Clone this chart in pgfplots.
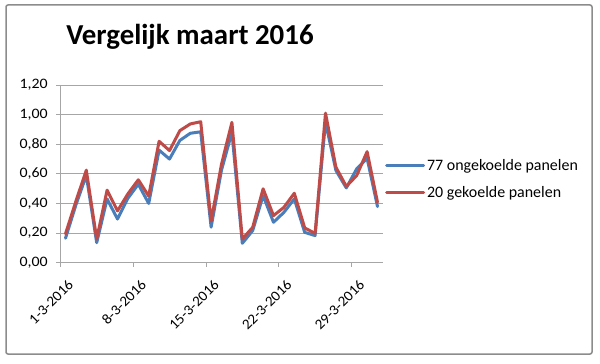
\documentclass[border=0pt]{standalone}
\usepackage{fontspec}
\setmainfont{Carlito}
\newfontfamily\tickfont{Carlito}[FakeStretch=1.06]
\newfontfamily\ytickfont{Carlito}[FakeStretch=1.1]
\usepackage{pgfplots}
\pgfplotsset{compat=1.18}
\definecolor{sblue}{HTML}{4A7EBB}
\definecolor{sred}{HTML}{BE4B48}
\definecolor{gridc}{HTML}{A6A6A6}
\definecolor{framec}{HTML}{8C8C8C}

\begin{document}
\begin{tikzpicture}[x=1bp,y=1bp]
\path[use as bounding box, fill=white] (0,0) rectangle (600,363);
\draw[framec, line width=1.5bp, rounded corners=2bp] (6,9) rectangle (592,358);
\node[font=\fontsize{29}{34}\selectfont\bfseries] at (190,326) {Vergelijk maart 2016};
\begin{axis}[
  at={(60.3bp,100.3bp)}, anchor=south west,
  scale only axis, width=322.4bp, height=177.7bp,
  xmin=0.5, xmax=31.5, ymin=0, ymax=1.2,
  ytick={0,0.2,0.4,0.6,0.8,1.0,1.2},
  ymajorgrids, grid style={gridc, line width=0.75bp},
  axis x line*=bottom, axis y line*=left,
  axis line style={gridc, line width=0.75bp},
  tick align=outside, major tick length=4bp,
  tick style={gridc, line width=0.75bp},
  xtick={0.5,7.5,14.5,21.5,28.5},
  xticklabels={1-3-2016,8-3-2016,15-3-2016,22-3-2016,29-3-2016},
  xticklabel style={font=\tickfont\fontsize{14.5}{17}\selectfont, xshift=7bp, yshift=-12bp, rotate=45, anchor=north east, inner sep=0pt},
  yticklabel style={/pgf/number format/use comma, /pgf/number format/fixed, /pgf/number format/fixed zerofill, /pgf/number format/precision=2, /pgf/number format/assume math mode=true, font=\ytickfont\fontsize{14.5}{17}\selectfont, xshift=-5bp},
  legend style={at={(1.007,0.47)}, anchor=west, draw=none, fill=none, font=\fontsize{16}{19}\selectfont, row sep=11bp, inner sep=0pt},
  legend cell align=left,
  legend image code/.code={\draw[#1] (0bp,0bp) -- (37bp,0bp);},
]
\addplot[sblue, line width=3bp, line join=round, line cap=round] coordinates {
(1,0.165) (2,0.39) (3,0.59) (4,0.135) (5,0.43) (6,0.295) (7,0.435) (8,0.53) (9,0.40) (10,0.76)
(11,0.70) (12,0.826) (13,0.874) (14,0.884) (15,0.24) (16,0.625) (17,0.88) (18,0.131) (19,0.217) (20,0.453)
(21,0.273) (22,0.34) (23,0.431) (24,0.205) (25,0.183) (26,0.95) (27,0.623) (28,0.505) (29,0.634) (30,0.705)
(31,0.379)};
\addlegendentry{77 ongekoelde panelen}
\addplot[sred, line width=3bp, line join=round, line cap=round] coordinates {
(1,0.195) (2,0.415) (3,0.625) (4,0.16) (5,0.49) (6,0.35) (7,0.465) (8,0.56) (9,0.45) (10,0.82)
(11,0.757) (12,0.892) (13,0.937) (14,0.952) (15,0.28) (16,0.665) (17,0.948) (18,0.16) (19,0.239) (20,0.499)
(21,0.318) (22,0.374) (23,0.469) (24,0.235) (25,0.198) (26,1.01) (27,0.645) (28,0.515) (29,0.589) (30,0.75)
(31,0.408)};
\addlegendentry{20 gekoelde panelen}
\end{axis}
\end{tikzpicture}
\end{document}
